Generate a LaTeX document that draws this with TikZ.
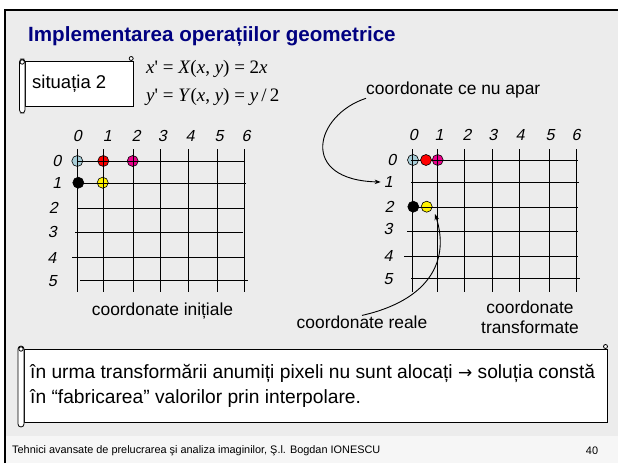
\documentclass[tikz,border=0pt]{standalone}
\usepackage{fontspec}
\setmainfont{Liberation Sans}
\newfontfamily\eqfont{Liberation Serif}
\newfontfamily\arrfont{DejaVu Sans}
\newfontfamily\numfont{Liberation Sans}[FakeSlant=0.21]
\usetikzlibrary{arrows.meta,calc}
\definecolor{navy}{RGB}{0,0,128}
\definecolor{bgmain}{RGB}{236,236,236}
\definecolor{bgfoot}{RGB}{246,246,246}
\definecolor{ltblue}{RGB}{168,206,216}
\tikzset{
  gl/.style={black, line width=0.9},
  dot/.style={circle, draw=black, line width=0.6, inner sep=0, minimum size=11},
  num/.style={inner sep=0, font=\numfont\fontsize{16}{18}\selectfont},
  lbl/.style={inner sep=0, font=\fontsize{17.4}{21}\selectfont},
  scrollline/.style={draw=black, line width=0.8, fill=white},
  conn/.style={line width=0.9, -{Stealth[length=6pt,width=4.5pt]}}
}
\begin{document}
\begin{tikzpicture}[x=1pt,y=-1pt]
\useasboundingbox (0,0) rectangle (618,463);
\fill[white] (0,0) rectangle (618,463);
\fill[bgmain] (5,10) rectangle (618,436);
\fill[bgfoot] (5,436) rectangle (618,463);
\draw[line width=2.2] (5,463) -- (5,10) -- (618,10);

% title
\node[anchor=west, inner sep=0, text=navy, font=\bfseries\fontsize{20.6}{24}\selectfont] (title) at (28,36) {Implementarea operațiilor geometrice};

% scroll box "situatia 2"
\draw[scrollline] (25,61) rectangle (133,106);
\draw[scrollline, rounded corners=3] (19.5,59) rectangle (25,113);
\draw[scrollline] (22.2,62) circle (2.2);
\draw[scrollline] (131.2,58.5) circle (2);
\node[inner sep=0, anchor=west, font=\fontsize{18.5}{22}\selectfont] (sit) at (32,84) {situația 2};

% equations
\node[anchor=west, inner sep=0, font=\eqfont\fontsize{19}{22}\selectfont] (eq1) at (146,69) {\textit{x}' = \textit{X}(\textit{x}, \textit{y}) = 2\textit{x}};
\node[anchor=west, inner sep=0, font=\eqfont\fontsize{19}{22}\selectfont] (eq2) at (146,97) {\textit{y}' = \textit{Y}(\textit{x}, \textit{y}) = \textit{y}\,/\,2};

% ---------- left grid ----------
\node[dot, fill=ltblue] (bL) at (77.3,161) {};
\node[dot, fill=red] (rL) at (103.3,161) {};
\node[dot, fill=magenta] (mL) at (132.7,161) {};
\node[dot, fill=black] (kL) at (78.3,182.7) {};
\node[dot, fill=yellow] (yL) at (102.7,182.7) {};
\foreach \x in {77,103,133,160,188,217,244} \draw[gl] (\x,149) -- (\x,292);
\draw[gl] (77,161) -- (244,161);
\draw[gl] (77,183) -- (246,183);
\draw[gl] (78,208) -- (244,208);
\draw[gl] (75,232) -- (243,232);
\draw[gl] (72,257) -- (244,257);
\draw[gl] (80,280) -- (248,280);
\foreach \t/\x in {0/77.3,1/107.3,2/136,3/162.3,4/190,5/219,6/246}
  \node[num] (cL\t) at (\x,136) {\t};
\foreach \t/\x/\y in {0/56.7/161,1/56.7/182.7,2/53.3/207.7,3/52.3/231.7,4/51.7/257.7,5/52.3/281}
  \node[num] (rowL\t) at (\x,\y) {\t};
\node[lbl] (init) at (162.5,311) {coordonate inițiale};

% ---------- right grid ----------
\node[dot, fill=ltblue] (bR) at (413,160) {};
\node[dot, fill=magenta] (mR) at (437.7,160) {};
\node[dot, fill=black] (kR) at (413.3,206.7) {};
\node[dot, fill=yellow] (yR) at (426.7,206.7) {};
\foreach \x in {412,437,464,492,519,549,576} \draw[gl] (\x,149) -- (\x,292);
\draw[gl] (411,160) -- (578,160);
\draw[gl] (411,182) -- (579,182);
\draw[gl] (411,207) -- (578,207);
\draw[gl] (407,231) -- (578,231);
\draw[gl] (404,256) -- (578,256);
\draw[gl] (411,278) -- (580,278);
\node[dot, fill=red] (rR) at (426,160) {};
\foreach \t/\x in {0/413.3,1/439,2/466.7,3/492.7,4/520,5/550,6/576}
  \node[num] (cR\t) at (\x,135) {\t};
\foreach \t/\x/\y in {0/391.7/160,1/388.3/182,2/389/207,3/388/229,4/388/256,5/388/279}
  \node[num] (rowR\t) at (\x,\y) {\t};
\node[lbl, align=center] (transf) at (530,317) {coordonate\\[-1pt]transformate};

% annotations
\node[lbl, anchor=west] (nuapar) at (366,90) {coordonate ce nu apar};
\node[lbl] (reale) at (362,322) {coordonate reale};
\coordinate (tip1) at ($(rowR1.west)+(-3,0)$);
\coordinate (tip2) at (435,214);
\draw[conn] (nuapar.south west) .. controls (315,115) and (298,180) .. (tip1);
\draw[conn] (reale.north) .. controls (430,300) and (450,260) .. (tip2);

% bottom scroll box
\draw[scrollline] (24,349) rectangle (607,422);
\draw[scrollline, rounded corners=3] (18,346) rectangle (24,427);
\draw[scrollline] (21,349) circle (2.2);
\draw[scrollline] (605.5,346.5) circle (2);
\node[inner sep=0, anchor=west, align=left, font=\fontsize{19.2}{25}\selectfont] (note) at (30,385.5)
  {în urma transformării anumiți pixeli nu sunt alocați {\arrfont\fontsize{17}{20}\selectfont →} soluția constă\\în “fabricarea” valorilor prin interpolare.};

% footer
\node[inner sep=0, anchor=west, font=\fontsize{10.9}{13}\selectfont] (foot) at (12,451) {Tehnici avansate de prelucrarea şi analiza imaginilor, Ş.l. Bogdan IONESCU};
\node[inner sep=0, font=\fontsize{10.9}{13}\selectfont] (page) at (592,451) {40};
\end{tikzpicture}
\end{document}
